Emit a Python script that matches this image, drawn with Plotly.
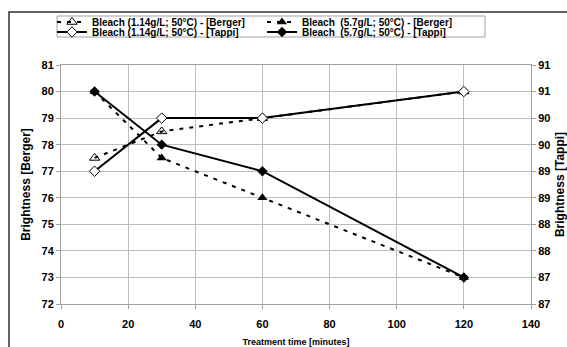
import plotly.graph_objects as go

# ---- data ----
time_min = [10, 30, 60, 120]
berger_114 = [77.5, 78.5, 79.0, 80.0]
berger_57 = [80.0, 77.5, 76.0, 73.0]
tappi_114 = [89.0, 90.0, 90.0, 90.5]
tappi_57 = [90.5, 89.5, 89.0, 87.0]

names = [
    "Bleach (1.14g/L; 50°C) - [Berger]",
    "Bleach\u00a0 (5.7g/L; 50°C) - [Berger]",
    "Bleach (1.14g/L; 50°C) - [Tappi]",
    "Bleach\u00a0 (5.7g/L; 50°C) - [Tappi]",
]

left_ticks = [72, 73, 74, 75, 76, 77, 78, 79, 80, 81]
right_tickvals = [86.5, 87, 87.5, 88, 88.5, 89, 89.5, 90, 90.5, 91]
right_ticktext = ["87", "87", "88", "88", "89", "89", "90", "90", "91", "91"]
x_ticks = [0, 20, 40, 60, 80, 100, 120, 140]

W, H = 567, 347
L, R, T, B = 61, 36, 65, 43
pw, ph = W - L - R, H - T - B

def px_x(x):
    return (x - L) / pw

def px_y(y):
    return (H - B - y) / ph

FONT = "Liberation Sans, Arial, sans-serif"
GRID = "#bdbdbd"

fig = go.Figure()

fig.add_trace(go.Scatter(
    x=time_min, y=berger_114, name=names[0], mode="lines+markers",
    line=dict(color="black", width=2, dash="4px,6px"),
    marker=dict(symbol="triangle-up-open", size=9, color="black", line=dict(width=1)),
    legend="legend",
))
fig.add_trace(go.Scatter(
    x=time_min, y=berger_57, name=names[1], mode="lines+markers",
    line=dict(color="black", width=2, dash="4px,6px"),
    marker=dict(symbol="triangle-up", size=9, color="black"),
    legend="legend",
))
fig.add_trace(go.Scatter(
    x=time_min, y=tappi_114, name=names[2], mode="lines+markers", yaxis="y2",
    line=dict(color="black", width=2),
    marker=dict(symbol="diamond", size=8, color="white", line=dict(width=1, color="black")),
    legend="legend2",
))
fig.add_trace(go.Scatter(
    x=time_min, y=tappi_57, name=names[3], mode="lines+markers", yaxis="y2",
    line=dict(color="black", width=2),
    marker=dict(symbol="diamond", size=8, color="black"),
    legend="legend2",
))

legend_common = dict(
    orientation="h", xanchor="left", yanchor="middle",
    bgcolor="rgba(0,0,0,0)", borderwidth=0,
    font=dict(family=FONT, size=10, color="black", weight="bold"),
    entrywidth=165, entrywidthmode="pixels", itemwidth=30,
    tracegroupgap=0,
)

fig.update_layout(
    width=W, height=H,
    margin=dict(l=L, r=R, t=T, b=B, autoexpand=False),
    paper_bgcolor="white", plot_bgcolor="white",
    font=dict(family=FONT, size=11, color="black", weight="bold"),
    showlegend=True,
    legend=dict(x=px_x(52), y=px_y(22), **legend_common),
    legend2=dict(x=px_x(52), y=px_y(32), **legend_common),
    xaxis=dict(
        range=[0, 140], tickvals=x_ticks, showgrid=True, gridcolor=GRID, gridwidth=1,
        showline=True, linecolor="#a0a0a0", linewidth=1, mirror=True,
        ticks="outside", ticklen=4, tickcolor="#a0a0a0",
        tickfont=dict(size=11, family=FONT, weight="bold"),
        ticklabelstandoff=6,
        title=dict(text="Treatment time [minutes]", font=dict(size=9, family=FONT, weight="bold"), standoff=9),
        zeroline=False, automargin=False,
    ),
    yaxis=dict(
        range=[72, 81], tickvals=left_ticks, showgrid=True, gridcolor=GRID, gridwidth=1,
        showline=True, linecolor="#a0a0a0", linewidth=1,
        ticks="outside", ticklen=4, tickcolor="#a0a0a0",
        tickfont=dict(size=11, family=FONT, weight="bold"),
        title=dict(text="Brightness [Berger]", font=dict(size=12, family=FONT, weight="bold"), standoff=8),
        zeroline=False, automargin=False,
    ),
    yaxis2=dict(
        range=[86.5, 91], tickvals=right_tickvals, ticktext=right_ticktext,
        overlaying="y", side="right", showgrid=False,
        showline=True, linecolor="#a0a0a0", linewidth=1,
        ticks="outside", ticklen=4, tickcolor="#a0a0a0",
        tickfont=dict(size=11, family=FONT, weight="bold"),
        title=dict(text="Brightness [Tappi]", font=dict(size=12, family=FONT, weight="bold"), standoff=13),
        zeroline=False, automargin=False,
    ),
    shapes=[
        # outer chart border
        dict(type="rect", xref="paper", yref="paper",
             x0=px_x(9), x1=px_x(620), y0=px_y(400), y1=px_y(12),
             line=dict(color="#303030", width=1.5), fillcolor="rgba(0,0,0,0)", layer="above"),
        # legend box
        dict(type="rect", xref="paper", yref="paper",
             x0=px_x(57), x1=px_x(485), y0=px_y(37), y1=px_y(16),
             line=dict(color="#a0a0a0", width=1), fillcolor="rgba(0,0,0,0)", layer="above"),
    ],
)

fig.write_html("out.html")
